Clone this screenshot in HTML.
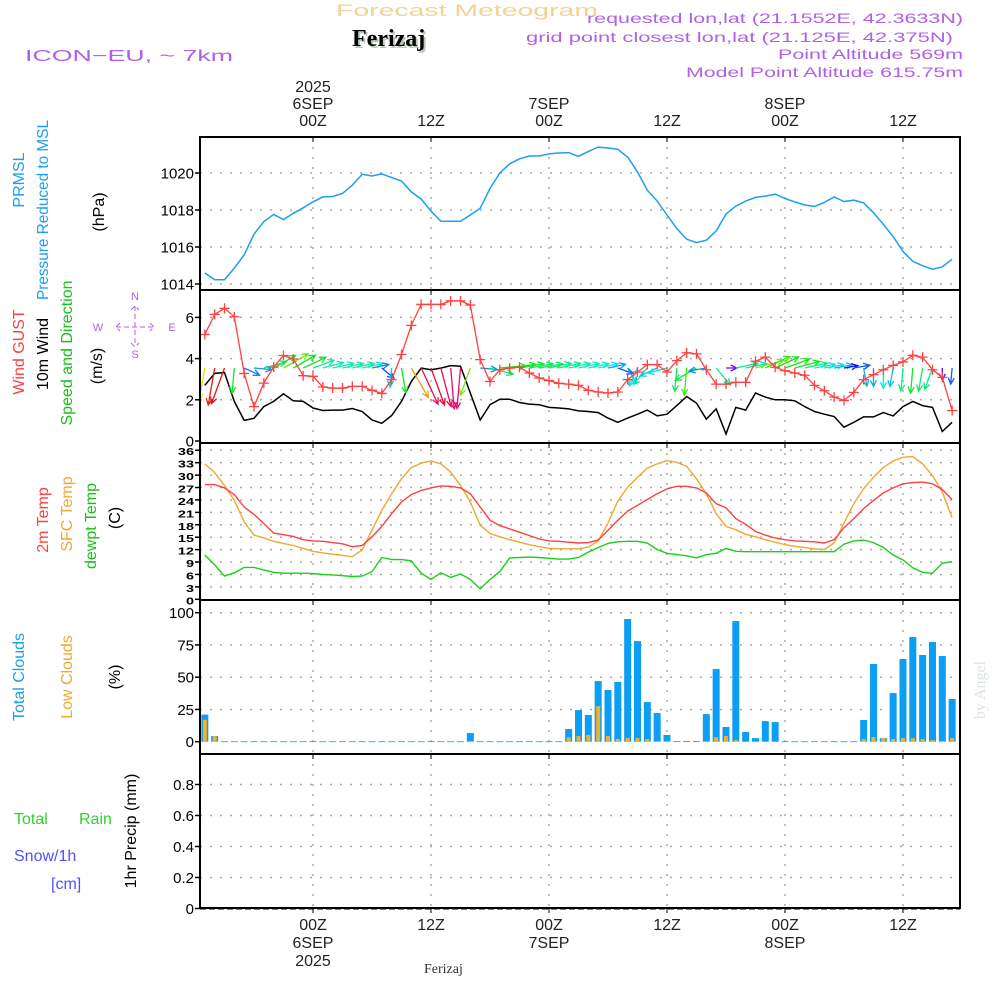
<!DOCTYPE html>
<html><head><meta charset="utf-8"><title>Forecast Meteogram Ferizaj</title>
<style>
html,body{margin:0;padding:0;background:#fff;}
svg{display:block;font-family:"Liberation Sans","DejaVu Sans",sans-serif;}
</style></head>
<body>
<svg id="chart" width="1000" height="1000" viewBox="0 0 1000 1000" xmlns="http://www.w3.org/2000/svg">
<!-- header -->
<text x="336" y="16" font-size="17" fill="#f3d394" textLength="262" lengthAdjust="spacingAndGlyphs">Forecast Meteogram</text>
<text x="354" y="48" font-family="Liberation Serif,serif" font-weight="bold" font-size="24" fill="#b8ccb8">Ferizaj</text>
<text x="352" y="46" font-family="Liberation Serif,serif" font-weight="bold" font-size="24" fill="#000">Ferizaj</text>
<text x="25" y="61" font-size="16" fill="#b060e8" textLength="208" lengthAdjust="spacingAndGlyphs">ICON−EU, ~ 7km</text>
<g fill="#b060e8" font-size="14">
<text x="587" y="23" textLength="376" lengthAdjust="spacingAndGlyphs">requested lon,lat (21.1552E, 42.3633N)</text>
<text x="526" y="42" textLength="427" lengthAdjust="spacingAndGlyphs">grid point closest lon,lat (21.125E, 42.375N)</text>
<text x="778" y="59" textLength="185" lengthAdjust="spacingAndGlyphs">Point Altitude 569m</text>
<text x="686" y="77" textLength="277" lengthAdjust="spacingAndGlyphs">Model Point Altitude 615.75m</text>
</g>

<!-- left labels -->
<g font-size="16">
<text transform="translate(24,180) rotate(-90)" text-anchor="middle" fill="#1aa0f0">PRMSL</text>
<text transform="translate(48,210) rotate(-90)" text-anchor="middle" fill="#1aa0f0" textLength="180" lengthAdjust="spacingAndGlyphs">Pressure Reduced to MSL</text>
<text transform="translate(104,212) rotate(-90)" text-anchor="middle" fill="#000">(hPa)</text>
<text transform="translate(24,352) rotate(-90)" text-anchor="middle" fill="#ff4040">Wind GUST</text>
<text transform="translate(48,354) rotate(-90)" text-anchor="middle" fill="#000">10m Wind</text>
<text transform="translate(72,353) rotate(-90)" text-anchor="middle" fill="#18c018">Speed and Direction</text>
<text transform="translate(102,366) rotate(-90)" text-anchor="middle" fill="#000">(m/s)</text>
<text transform="translate(48,520) rotate(-90)" text-anchor="middle" fill="#ff4040">2m Temp</text>
<text transform="translate(72,514) rotate(-90)" text-anchor="middle" fill="#f0a830">SFC Temp</text>
<text transform="translate(96,526) rotate(-90)" text-anchor="middle" fill="#18c018">dewpt Temp</text>
<text transform="translate(120,518) rotate(-90)" text-anchor="middle" fill="#000">(C)</text>
<text transform="translate(24,677) rotate(-90)" text-anchor="middle" fill="#1aa0f0">Total Clouds</text>
<text transform="translate(72,677) rotate(-90)" text-anchor="middle" fill="#f0a830">Low Clouds</text>
<text transform="translate(120,677) rotate(-90)" text-anchor="middle" fill="#000">(%)</text>
<text x="14" y="824" fill="#30d030">Total</text>
<text x="79" y="824" fill="#30d030">Rain</text>
<text x="14" y="861" fill="#5050ff">Snow/1h</text>
<text x="51" y="889" fill="#5050ff">[cm]</text>
<text transform="translate(136,831) rotate(-90)" text-anchor="middle" fill="#000">1hr Precip (mm)</text>
</g>
<!-- compass -->
<g fill="#b060e8" font-size="11">
<text x="135" y="300" text-anchor="middle">N</text>
<text x="135" y="358" text-anchor="middle">S</text>
<text x="98" y="331" text-anchor="middle">W</text>
<text x="172" y="331" text-anchor="middle">E</text>
<path d="M116,327 h38 M135,306 v40 M120,323 l-4,4 l4,4 M150,323 l4,4 l-4,4 M131,310 l4,-4 l4,4 M131,343 l4,4 l4,-4" stroke="#b060e8" stroke-width="1" fill="none" stroke-dasharray="5,3"/>
</g>
<text transform="translate(985,690) rotate(-90)" text-anchor="middle" font-family="Liberation Serif,serif" font-size="16" fill="#dde4dd">by Angel</text>
<text x="424" y="973" font-family="Liberation Serif,serif" font-size="14" fill="#333">Ferizaj</text>

<g id="plots"></g>
</svg>
<script>
// ---- data (hourly, hours relative to 00Z 6SEP 2025) ----
const startHour = -11;
const pressure = [1014.6,1014.23,1014.23,1014.86,1015.58,1016.69,1017.37,1017.76,1017.48,1017.82,1018.12,1018.44,1018.71,1018.73,1018.89,1019.34,1019.93,1019.84,1019.95,1019.75,1019.57,1018.98,1018.59,1017.94,1017.4,1017.39,1017.39,1017.73,1018.09,1019.16,1020.0,1020.5,1020.77,1020.92,1020.92,1021.03,1021.08,1021.1,1020.9,1021.17,1021.4,1021.35,1021.28,1020.86,1020.06,1019.07,1018.48,1017.73,1017.0,1016.42,1016.24,1016.37,1016.87,1017.78,1018.21,1018.48,1018.68,1018.75,1018.86,1018.62,1018.44,1018.27,1018.19,1018.41,1018.7,1018.46,1018.53,1018.39,1017.85,1017.23,1016.56,1015.76,1015.22,1014.99,1014.8,1014.93,1015.34];
const gust = [5.17,6.15,6.44,6.03,3.28,1.67,2.81,3.59,4.15,3.98,3.17,3.14,2.62,2.57,2.57,2.65,2.65,2.46,2.31,2.98,4.2,5.61,6.63,6.63,6.63,6.8,6.8,6.6,3.95,2.89,3.46,3.54,3.58,3.3,3.06,2.93,2.8,2.76,2.7,2.46,2.38,2.33,2.38,2.98,3.35,3.71,3.71,3.35,3.9,4.28,4.23,3.46,2.76,2.76,2.85,2.85,3.87,4.07,3.58,3.41,3.3,3.19,2.7,2.44,2.13,1.97,2.36,2.98,3.22,3.46,3.67,3.84,4.16,4.07,3.46,3.09,1.48];
const wind10m = [2.7,3.28,3.32,1.92,1.0,1.1,1.67,1.92,2.29,1.95,1.92,1.6,1.48,1.5,1.5,1.58,1.43,1.02,0.86,1.24,1.92,2.89,3.54,3.46,3.54,3.66,3.63,2.33,1.02,1.76,2.03,2.03,1.87,1.79,1.76,1.63,1.6,1.56,1.46,1.43,1.38,1.11,0.91,1.11,1.3,1.5,1.22,1.3,1.72,2.16,1.84,1.06,1.56,0.34,1.63,1.5,2.33,2.13,2.0,2.0,1.95,1.67,1.43,1.3,1.19,0.67,0.91,1.17,1.17,1.38,1.22,1.67,1.92,1.72,1.63,0.46,0.91];
// screen angle the wind arrow points to (deg, 0 = east/right, 90 = south/down)
const windToAngle = [100,100,110,95,25,5,-15,-30,-30,-30,-25,-20,-15,-12,-12,-12,-12,-12,40,95,80,60,65,70,75,85,95,110,5,15,-5,-8,-10,-10,-10,-12,-12,-12,-12,-12,-12,-12,20,60,115,130,155,165,95,95,150,170,50,0,-12,-12,-15,-25,-25,-20,-15,-12,-10,-10,-10,-10,-10,80,90,90,100,95,95,100,110,90,95];
const temp2m = [27.7,27.7,26.9,25.3,22.3,20.5,18.3,16.0,15.6,15.2,14.4,14.1,14.0,13.7,13.4,12.7,13.0,15.1,17.6,20.7,23.5,25.3,26.3,26.9,27.4,27.3,26.9,25.5,22.3,19.1,17.8,17.0,16.2,15.4,14.6,14.1,14.0,13.8,13.6,13.7,14.3,16.7,19.1,21.3,22.7,24.1,25.5,26.7,27.3,27.3,26.9,25.7,23.1,22.1,19.5,18.1,16.4,15.5,14.8,14.4,14.1,14.0,13.9,13.6,14.4,17.3,19.5,21.9,23.9,25.7,26.9,27.9,28.2,28.3,27.9,26.5,24.1];
const tempSfc = [32.7,30.6,27.5,23.9,18.7,15.5,14.8,14.0,13.5,13.0,12.3,11.6,11.2,10.9,10.6,10.3,11.9,16.7,21.5,25.5,29.1,31.8,32.9,33.4,32.7,30.7,27.5,23.5,17.9,15.9,15.1,14.4,13.8,13.2,12.7,12.3,12.2,12.2,12.2,12.6,14.1,18.4,23.7,27.1,29.5,31.7,32.7,33.5,33.1,32.1,29.1,25.5,20.7,17.6,16.8,15.7,15.1,14.4,13.8,13.2,12.8,12.5,12.2,12.0,13.6,18.4,23.1,26.7,29.5,31.8,33.4,34.3,34.5,32.7,29.9,25.9,19.7];
const dewpt = [10.7,8.3,5.6,6.4,7.7,7.7,7.1,6.5,6.3,6.3,6.3,6.2,6.0,5.9,5.7,5.5,5.6,6.7,10.1,9.6,9.6,9.3,6.3,4.8,6.4,5.3,6.1,4.8,2.5,4.8,6.7,10.0,10.1,10.2,10.1,9.9,9.7,9.7,10.1,11.4,12.5,13.5,13.9,14.0,14.0,13.6,12.0,11.1,10.8,10.5,10.0,10.8,11.1,12.3,11.6,11.5,11.5,11.5,11.5,11.5,11.5,11.5,11.5,11.5,11.5,13.3,14.1,14.3,13.7,12.5,10.7,9.5,7.6,6.5,6.3,8.7,9.1];
const totalClouds = [21,4.4,0.3,0.3,0.3,0.3,0.3,0.3,0.3,0.3,0.3,0.3,0.3,0.3,0.3,0.3,0.3,0.3,0.3,0.3,0.3,0.3,0.3,0.3,0.3,0.3,0.3,6.7,0.3,0.3,0.3,0.3,0.3,0.3,0.3,0.3,0.3,9.8,24.5,20.7,47.0,40.1,46.3,95.1,78.0,30.7,22.2,5.2,0.5,0.5,0.5,21.4,56.3,11.4,93.5,7.5,2.8,16.0,15.2,0.3,0.3,0.3,0.3,0.3,0.3,0.3,0.3,16.8,60.2,2.8,37.7,64.1,81.1,67.2,77.3,66.4,33.1];
const lowClouds = [17,4.4,0,0,0,0,0,0,0,0,0,0,0,0,0,0,0,0,0,0,0,0,0,0,0,0,0,0.5,0,0,0,0,0,0,0,0,0,3.4,4.4,5.2,27.6,4.4,2.1,2.8,2.8,2.1,0.5,0.5,0,0,0,0.5,3.6,4.4,1.3,0,0,0,0,0,0,0,0,0,0,0,0,2.1,3.6,2.8,2.1,2.8,2.8,2.1,1.3,0.5,2.8];
const precip = [];
const pressureTicks = [1014,1016,1018,1020];
const windTicks = [0,2,4,6];
const tempTicks = [0,3,6,9,12,15,18,21,24,27,30,33,36];
const cloudTicks = [0,25,50,75,100];
const precipTicks = [0,0.2,0.4,0.6,0.8];
const timeTicks = [0,12,24,36,48,60];
const topTimeLabels = [["2025","6SEP","00Z"],["","","12Z"],["","7SEP","00Z"],["","","12Z"],["","8SEP","00Z"],["","","12Z"]];
const bottomTimeLabels = [["00Z","6SEP","2025"],["12Z","",""],["00Z","7SEP",""],["12Z","",""],["00Z","8SEP",""],["12Z","",""]];

// ---- scales ----
const X0 = 200, X1 = 960;
const xh = h => 313 + h * 9.833;
const panels = [
  {name:'pressure', top:137, bot:290, y: v => 284 - (v - 1014) * 18.5},
  {name:'wind', top:290, bot:443, y: v => 441 - v * 20.6},
  {name:'temperature', top:443, bot:600, y: v => 599.3 - v * 4.14},
  {name:'clouds', top:600, bot:754, y: v => 741.7 - v * 1.29},
  {name:'precip', top:754, bot:908, y: v => 908.5 - v * 155}
];
const NS = 'http://www.w3.org/2000/svg';
const root = document.getElementById('plots');
function mk(tag, attrs, parent){const e=document.createElementNS(NS,tag);for(const k in attrs)e.setAttribute(k,attrs[k]);(parent||root).appendChild(e);return e;}
function hx(i){return xh(startHour + i);}

const defs = mk('defs',{});
const cp = mk('clipPath',{id:'plotclip'},defs);
mk('rect',{x:X0,y:137,width:X1-X0,height:771},cp);

const tickSets = [pressureTicks, windTicks, tempTicks, cloudTicks, precipTicks];
panels.forEach((p, pi) => {
  const g = mk('g',{});
  
  
  timeTicks.forEach(t => {
    const l = mk('line',{x1:xh(t),x2:xh(t),y1:p.top,y2:p.bot,stroke:'#aaa','stroke-width':1.5,'stroke-dasharray':'2,8'},g);
    
    
  });
  tickSets[pi].forEach(v => {
    const y = p.y(v);
    if (v !== tickSets[pi][0] || pi === 0) {
      const l = mk('line',{x1:X0,x2:X1,y1:y,y2:y,stroke:'#aaa','stroke-width':1.5,'stroke-dasharray':'2,8'},g);
      
      
    }
    mk('line',{x1:X0-5,x2:X0,y1:y,y2:y,stroke:'#000','stroke-width':1.5},g);
    const t = mk('text',{x:X0-6,y:y+5.5,'text-anchor':'end','font-size':pi===2?17:15,fill:'#000'},g);
    if (pi===2) {
      t.setAttribute('font-weight','bold');
      t.setAttribute('transform','translate('+(X0-6)+','+(y+5)+') scale(0.85,0.62) translate('+(-(X0-6))+','+(-(y+5.5))+')');
    }
    
    
    t.textContent = String(v);
  });
  timeTicks.forEach(t => {
    mk('line',{x1:xh(t),x2:xh(t),y1:p.top,y2:p.top+5,stroke:'#000','stroke-width':1},g);
  });
});

// pressure line
(function(){
  const p = panels[0];
  const pts = pressure.map((v,i)=>hx(i).toFixed(1)+','+p.y(v).toFixed(1)).join(' ');
  const l = mk('polyline',{points:pts,fill:'none',stroke:'#1aa0f0','stroke-width':1.5,'clip-path':'url(#plotclip)'});
  
  
})();

// wind panel
(function(){
  const p = panels[1];
  const pts = wind10m.map((v,i)=>hx(i).toFixed(1)+','+p.y(v).toFixed(1)).join(' ');
  const l = mk('polyline',{points:pts,fill:'none',stroke:'#000','stroke-width':1.5,'clip-path':'url(#plotclip)'});
  
  
  const ag = mk('g',{'clip-path':'url(#plotclip)'});
  
  
  windToAngle.forEach((a,i)=>{
    const s = wind10m[i];
    const x = hx(i), y = 368;
    const L = 8 + 9 * s;
    const r = a * Math.PI/180;
    const ex = x + L*Math.cos(r), ey = y + L*Math.sin(r);
    let hue = 300 - 90*s; if (hue < 0) hue += 360;
    const col = 'hsl('+hue.toFixed(0)+',90%,48%)';
    const h1 = r + Math.PI - 0.45, h2 = r + Math.PI + 0.45;
    const hl = 7;
    const pth = mk('path',{d:'M'+x.toFixed(1)+','+y+' L'+ex.toFixed(1)+','+ey.toFixed(1)+' M'+(ex+hl*Math.cos(h1)).toFixed(1)+','+(ey+hl*Math.sin(h1)).toFixed(1)+' L'+ex.toFixed(1)+','+ey.toFixed(1)+' L'+(ex+hl*Math.cos(h2)).toFixed(1)+','+(ey+hl*Math.sin(h2)).toFixed(1),fill:'none',stroke:col,'stroke-width':1.3},ag);
    
    
  });
  const gp = gust.map((v,i)=>hx(i).toFixed(1)+','+p.y(v).toFixed(1)).join(' ');
  const gl = mk('polyline',{points:gp,fill:'none',stroke:'#ff4040','stroke-width':1.3,'clip-path':'url(#plotclip)'});
  
  
  gust.forEach((v,i)=>{
    const x=hx(i), y=p.y(v);
    const m = mk('path',{d:'M'+(x-5)+','+y+' h10 M'+x+','+(y-5)+' v10',stroke:'#ff4040','stroke-width':1.3,'clip-path':'url(#plotclip)'});
    
    
  });
})();

// temperature
(function(){
  const p = panels[2];
  [[tempSfc,'#f0a830','sfc-temp-line'],[temp2m,'#ff4040','temp-2m-line'],[dewpt,'#18d018','dewpoint-line']].forEach(([arr,c,n])=>{
    const pts = arr.map((v,i)=>hx(i).toFixed(1)+','+p.y(v).toFixed(1)).join(' ');
    const l = mk('polyline',{points:pts,fill:'none',stroke:c,'stroke-width':1.4,'clip-path':'url(#plotclip)'});
    
    
  });
})();

// clouds
(function(){
  const p = panels[3];
  const cg = mk('g',{'clip-path':'url(#plotclip)'});
  
  
  totalClouds.forEach((v,i)=>{
    const x = hx(i), y0 = p.y(0);
    const b = mk('rect',{x:x-3.5,y:p.y(v),width:7,height:Math.max(0.8,y0-p.y(v)),fill:'#0a9ef5'},cg);
    
    
    const lv = lowClouds[i];
    if (lv > 0) {
      const lb = mk('rect',{x:x-2,y:p.y(lv),width:4,height:y0-p.y(lv),fill:'#f0b030'},cg);
      
      
    }
  });
})();

// precip (no rain)
(function(){
  const p = panels[4];
  const l = mk('line',{x1:X0,x2:X1,y1:p.y(0),y2:p.y(0),stroke:'#000','stroke-width':2,'stroke-dasharray':'6,3'});
  
  
  precip.forEach((v,i)=>{
    const b = mk('rect',{x:hx(i)-3.5,y:p.y(v),width:7,height:p.y(0)-p.y(v),fill:'#30d030'});
    
    
  });
})();

// frames
panels.forEach(p=>{
  const r = mk('rect',{x:X0,y:p.top,width:X1-X0,height:p.bot-p.top,fill:'none',stroke:'#000','stroke-width':2});
  
  
});

// time labels
timeTicks.forEach((t,k)=>{
  const x = xh(t);
  topTimeLabels[k].forEach((s,j)=>{
    if(!s) return;
    const e = mk('text',{x:x,y:92+j*17,'text-anchor':'middle','font-size':16,fill:'#222'});
    
    
    e.textContent = s;
  });
  bottomTimeLabels[k].forEach((s,j)=>{
    if(!s) return;
    const e = mk('text',{x:x,y:930+j*18,'text-anchor':'middle','font-size':16,fill:'#222'});
    
    
    e.textContent = s;
  });
  mk('line',{x1:x,x2:x,y1:908,y2:913,stroke:'#000','stroke-width':1});
});
</script>
</body></html>
